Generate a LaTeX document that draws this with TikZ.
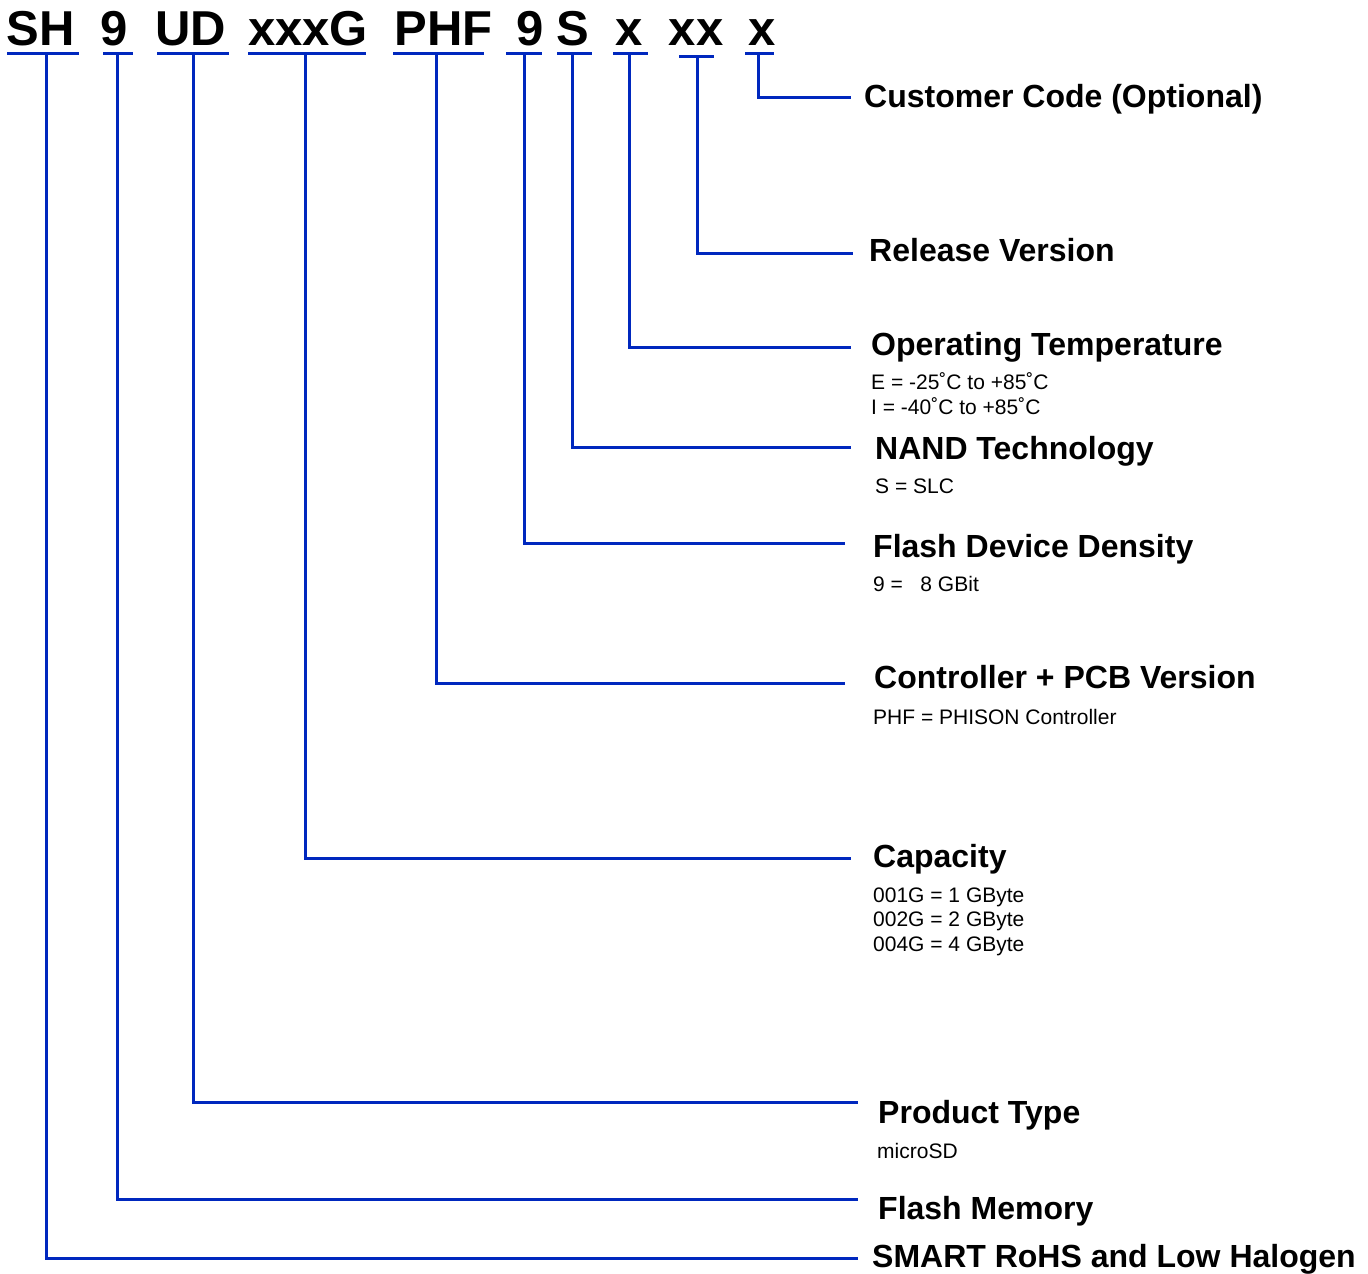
\documentclass[tikz,border=0pt]{standalone}
\usepackage{fontspec}
\setmainfont{Liberation Sans}
\usetikzlibrary{positioning}
\definecolor{pnblue}{RGB}{0,40,190}
\tikzset{
    mycode/.style = {anchor=base, inner sep=0pt, text=black, font=\fontsize{49}{58}\selectfont\bfseries},
    mytitle/.style = {anchor=base west, inner sep=0pt, text=black, font=\fontsize{32}{38}\selectfont\bfseries},
    mynote/.style = {anchor=base west, inner sep=0pt, align=left, text=black, font=\fontsize{21}{24.5}\selectfont},
    edgeu/.style = {-, line width=3pt, pnblue},
    edgel/.style = {-, line width=3pt, pnblue, line join=miter},
}

\begin{document}
\begin{tikzpicture}[x=1pt,y=-1pt]
\path[use as bounding box] (0,0) rectangle (1368,1274);
% part number fields
\node[mycode] at (41,45) (sh) {SH};
\node[mycode] at (114.5,45) (nine) {9};
\node[mycode] at (190.5,45) (ud) {UD};
\node[mycode] at (308,45) (cap) {xxxG};
\node[mycode] at (443.5,45) (phf) {PHF};
\node[mycode] at (530.5,45) (dens) {9};
\node[mycode] at (573,45) (nand) {S};
\node[mycode] at (629,45) (temp) {x};
\node[mycode] at (696,45) (rel) {xx};
\node[mycode] at (762.5,45) (cust) {x};
%
\draw[edgeu] (7,53.5) -- (79,53.5);
\draw[edgeu] (103,53.5) -- (133,53.5);
\draw[edgeu] (157,53.5) -- (229,53.5);
\draw[edgeu] (248,53.5) -- (366,53.5);
\draw[edgeu] (393,53.5) -- (484,53.5);
\draw[edgeu] (506,53.5) -- (542,53.5);
\draw[edgeu] (557,53.5) -- (592,53.5);
\draw[edgeu] (613,53.5) -- (648,53.5);
\draw[edgeu] (679,56) -- (714,56);
\draw[edgeu] (745,53.5) -- (774,53.5);
%
\coordinate (sh-u) at (46,53.5);
\coordinate (nine-u) at (117.5,53.5);
\coordinate (ud-u) at (193,53.5);
\coordinate (cap-u) at (305,53.5);
\coordinate (phf-u) at (436.5,53.5);
\coordinate (dens-u) at (524.5,53.5);
\coordinate (nand-u) at (572.5,53.5);
\coordinate (temp-u) at (629,53.5);
\coordinate (rel-u) at (697,56);
\coordinate (cust-u) at (758.5,53.5);
%
\coordinate (cust-e) at (851,97);
\coordinate (rel-e) at (853,253);
\coordinate (temp-e) at (851,347);
\coordinate (nand-e) at (851,447);
\coordinate (dens-e) at (845,543);
\coordinate (phf-e) at (845,683);
\coordinate (cap-e) at (851,858);
\coordinate (ud-e) at (858,1102);
\coordinate (nine-e) at (858,1199.5);
\coordinate (sh-e) at (858,1258.5);
% field descriptions (notes: base = last line)
\node[mytitle] at (864,107) (custt) {Customer Code (Optional)};
\node[mytitle] at (869,261) (relt) {Release Version};
\node[mytitle] at (871,355) (tempt) {Operating Temperature};
\node[mynote] at (871,414) (tempn) {E = -25˚C to +85˚C\\I = -40˚C to +85˚C};
\node[mytitle] at (875,459) (nandt) {NAND Technology};
\node[mynote] at (875,493) (nandn) {S = SLC};
\node[mytitle] at (873,557) (denst) {Flash Device Density};
\node[mynote] at (873,591) (densn) {9 =\ \ \ 8 GBit};
\node[mytitle] at (874,688) (phft) {Controller + PCB Version};
\node[mynote] at (873,724) (phfn) {PHF = PHISON Controller};
\node[mytitle] at (873,867) (capt) {Capacity};
\node[mynote] at (873,951) (capn) {001G = 1 GByte\\002G = 2 GByte\\004G = 4 GByte};
\node[mytitle] at (878,1123) (udt) {Product Type};
\node[mynote] at (877,1158) (udn) {microSD};
\node[mytitle] at (878,1219) (ninet) {Flash Memory};
\node[mytitle] at (872,1267) (sht) {SMART RoHS and Low Halogen};
%
\draw[edgel] (cust-u) |- (cust-e);
\draw[edgel] (rel-u) |- (rel-e);
\draw[edgel] (temp-u) |- (temp-e);
\draw[edgel] (nand-u) |- (nand-e);
\draw[edgel] (dens-u) |- (dens-e);
\draw[edgel] (phf-u) |- (phf-e);
\draw[edgel] (cap-u) |- (cap-e);
\draw[edgel] (ud-u) |- (ud-e);
\draw[edgel] (nine-u) |- (nine-e);
\draw[edgel] (sh-u) |- (sh-e);
\end{tikzpicture}
\end{document}
